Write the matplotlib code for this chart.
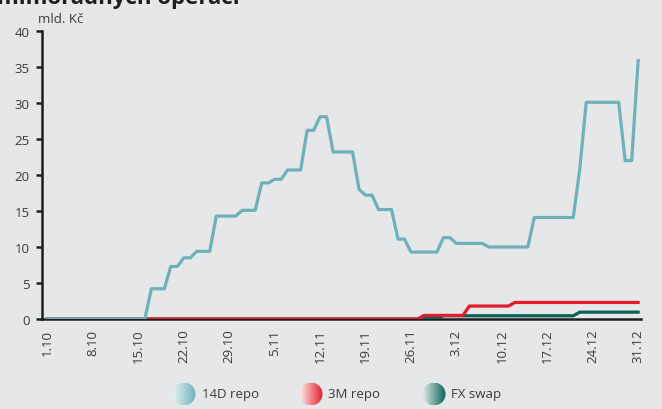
import numpy as np
import matplotlib.pyplot as plt
from matplotlib.patches import Circle

plt.rcParams['font.family'] = ['Open Sans', 'DejaVu Sans']

# one value per calendar day, 1.10. - 31.12.
tick_labels = ["1.10", "8.10", "15.10", "22.10", "29.10", "5.11", "12.11",
               "19.11", "26.11", "3.12", "10.12", "17.12", "24.12", "31.12"]

repo_14d = ([0.0] * 16 + [4.2] * 3 + [7.3] * 2 + [8.5] * 2 + [9.4] * 3 +
            [14.3] * 4 + [15.1] * 3 + [18.9] * 2 + [19.4] * 2 + [20.7] * 3 +
            [26.2] * 2 + [28.1] * 2 + [23.2] * 4 + [18.0] + [17.2] * 2 +
            [15.2] * 3 + [11.1] * 2 + [9.3] * 5 + [11.3] * 2 + [10.5] * 5 +
            [10.0] * 7 + [14.1] * 7 + [20.8] + [30.1] * 6 + [22.0] * 2 + [35.9])
repo_3m = [0.0] * 58 + [0.5] * 7 + [1.8] * 7 + [2.3] * 20
fx_swap = [0.0] * 58 + [0.1] * 3 + [0.45] * 21 + [0.95] * 10

series_names = ["14D repo", "3M repo", "FX swap"]
series_colors = ["#6eb1b9", "#e31b2d", "#0a6156"]
legend_light = ["#e4f1f2", "#fde9e4", "#dce9e6"]

bg = "#e6e7e8"
text_color = "#3a3a3a"

fig = plt.figure(figsize=(6.62, 4.10), dpi=100, facecolor=bg)
ax = fig.add_axes([0.0634, 0.2195, 0.905, 0.7024], facecolor=bg)

days = np.arange(len(repo_14d))
ax.plot(days, fx_swap, color=series_colors[2], lw=2.3, zorder=3)
ax.plot(days, repo_3m, color=series_colors[1], lw=2.3, zorder=4)
ax.plot(days, repo_14d, color=series_colors[0], lw=2.3, zorder=5)

ax.set_xlim(-0.85, 91.45)
ax.set_ylim(0, 40)
ax.set_yticks(range(0, 41, 5))
ax.set_xticks(range(0, len(repo_14d), 7))
ax.set_xticklabels(tick_labels, rotation=90)

for side in ["top", "right"]:
    ax.spines[side].set_visible(False)
for side in ["left", "bottom"]:
    ax.spines[side].set_linewidth(1.8)
    ax.spines[side].set_color("#1e1e1e")
    ax.spines[side].set_zorder(2)

ax.tick_params(axis="y", length=4, width=1.8, color="#1e1e1e",
               labelsize=9.5, labelcolor=text_color, pad=5)
ax.tick_params(axis="x", length=0, labelsize=9.5, labelcolor=text_color, pad=7)

fig.text(0.058, 0.953, "mld. Kč", fontsize=9.5, color=text_color, va="center")
# title is cut off by the top edge in the source
fig.text(-0.004, 0.99, "mimořádných operací", fontsize=16, fontweight="bold",
         color="#1e1e1e", va="baseline")

# legend with gradient circles
legend_x = [184, 311, 434]
legend_y = 395
r = 11.5
for name, col, light, lx in zip(series_names, series_colors, legend_light, legend_x):
    cax = fig.add_axes([(lx - r) / 662, (410 - legend_y - r) / 410,
                        2 * r / 662, 2 * r / 410])
    cax.set_axis_off()
    grad = np.linspace(0, 1, 100).reshape(1, -1)
    cmap = plt.matplotlib.colors.LinearSegmentedColormap.from_list("g", [light, col])
    im = cax.imshow(grad, cmap=cmap, extent=[0, 1, 0, 1], aspect="auto")
    circ = Circle((0.5, 0.5), 0.5, transform=cax.transAxes)
    im.set_clip_path(circ)
    fig.text((lx + r + 6) / 662, (410 - legend_y) / 410, name,
             fontsize=9.5, color=text_color, va="center")

fig.savefig("out.png", dpi=100, facecolor=bg)
